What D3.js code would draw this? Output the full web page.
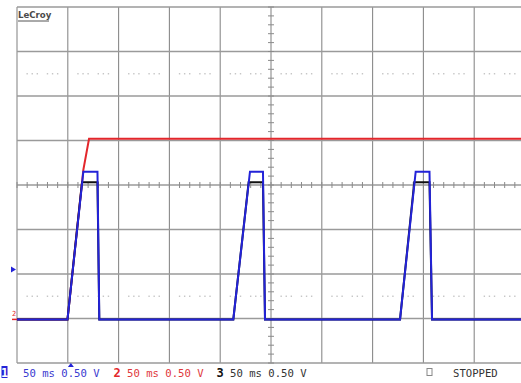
<!DOCTYPE html>
<html>
<head>
<meta charset="utf-8">
<script src="https://cdn.jsdelivr.net/npm/d3@7"></script>
<style>
body { margin: 0; background: #fff; overflow: hidden; }
text { font-family: "DejaVu Sans Mono", monospace; }
</style>
</head>
<body>
<script>
var width = 521
var height = 383

// screen: 10 div of 50 ms, 8 div of 0.50 V
var timeDomain = [-250, 250]
var voltDomain = [-2, 2]
var msPerDiv = 50
var voltPerDiv = 0.5
var dotLevels = [1.25, -1.25]
var dotOffsets = [10, 15, 20, 30, 35, 40]

// channel 1 (blue)
var ch1Time = [-250, -200.3, -184.7, -170.8, -169.0, -37.1, -20.7, -7.9, -5.9, 127.0, 142.4, 156.0, 158.5, 250]
var ch1Volt = [0, 0, 1.66, 1.66, 0, 0, 1.66, 1.66, 0, 0, 1.66, 1.66, 0, 0]
// channel 2 (red)
var ch2Time = [-250, -200.3, -184.7, -179.1, 250]
var ch2Volt = [0, 0, 1.68, 2.03, 2.03]
// channel 3 (black)
var ch3Time = [-250, -200.3, -186.0, -170.8, -169.0, -37.1, -22.0, -7.9, -5.9, 127.0, 141.0, 156.0, 158.5, 250]
var ch3Volt = [0, 0, 1.54, 1.54, 0, 0, 1.54, 1.54, 0, 0, 1.54, 1.54, 0, 0]

var chanNames = ["1", "2", "3"]
var chanLabels = ["50 ms 0.50 V", "50 ms 0.50 V", "50 ms 0.50 V"]
var chanColors = ["#2323d8", "#e3262b", "#111111"]
var labelColors = ["#3a3ad0", "#e0383c", "#333333"]
var chanOffsets = [-1.51, -1.51, -1.51]
var triggerTime = -197
var triggerLevel = 0.56

var x = d3.scaleLinear().domain(timeDomain).range([17, 525])
var y = d3.scaleLinear().domain(voltDomain).range([363, 7])

var svg = d3.select("body")
    .append("svg")
    .attr("width", width)
    .attr("height", height)

svg.append("defs").append("clipPath")
    .attr("id", "screen")
    .append("rect")
    .attr("x", 17).attr("y", 7)
    .attr("width", 508).attr("height", 356)

var grid = svg.append("g")

// major divisions
grid.selectAll(".vline")
    .data(d3.range(timeDomain[0], timeDomain[1] + 1, msPerDiv))
    .enter()
    .append("line")
    .attr("x1", (d) => x(d)).attr("x2", (d) => x(d))
    .attr("y1", y(voltDomain[1])).attr("y2", y(voltDomain[0]))
    .attr("stroke", "#8a8a8a")
    .attr("stroke-width", 1.1)

grid.selectAll(".hline")
    .data(d3.range(voltDomain[0], voltDomain[1] + 0.01, voltPerDiv))
    .enter()
    .append("line")
    .attr("x1", x(timeDomain[0])).attr("x2", x(timeDomain[1]))
    .attr("y1", (d) => y(d)).attr("y2", (d) => y(d))
    .attr("stroke", "#9a9a9a")
    .attr("stroke-width", 1.5)

// dotted reference rows
var dots = []
dotLevels.forEach(function (v) {
    d3.range(timeDomain[0], timeDomain[1], msPerDiv).forEach(function (t) {
        dotOffsets.forEach(function (o) { dots.push({ t: t + o, v: v }) })
    })
})
grid.selectAll(".dot")
    .data(dots)
    .enter()
    .append("rect")
    .attr("x", (d) => x(d.t) - 0.7)
    .attr("y", (d) => y(d.v) - 0.7)
    .attr("width", 1.4).attr("height", 1.4)
    .attr("fill", "#c4c4c4")

// minor ticks on the centre axes
grid.selectAll(".xtick")
    .data(d3.range(timeDomain[0], timeDomain[1] + 1, msPerDiv / 5))
    .enter()
    .append("line")
    .attr("x1", (d) => x(d)).attr("x2", (d) => x(d))
    .attr("y1", y(0) - 3).attr("y2", y(0) + 3)
    .attr("stroke", "#8a8a8a")

grid.selectAll(".ytick")
    .data(d3.range(voltDomain[0], voltDomain[1] + 0.01, voltPerDiv / 5))
    .enter()
    .append("line")
    .attr("x1", x(0) - 3).attr("x2", x(0) + 3)
    .attr("y1", (d) => y(d)).attr("y2", (d) => y(d))
    .attr("stroke", "#8a8a8a")

// traces
function trace(times, volts, off) {
    return d3.line()
        .x((d, i) => x(times[i]))
        .y((d, i) => y(volts[i] + off))(times)
}

var traces = svg.append("g").attr("clip-path", "url(#screen)")

traces.append("path")
    .attr("d", trace(ch2Time, ch2Volt, chanOffsets[1]))
    .attr("fill", "none")
    .attr("stroke", chanColors[1])
    .attr("stroke-width", 2)

traces.append("path")
    .attr("d", trace(ch3Time, ch3Volt, chanOffsets[2]))
    .attr("fill", "none")
    .attr("stroke", chanColors[2])
    .attr("stroke-width", 2)

traces.append("path")
    .attr("d", trace(ch1Time, ch1Volt, chanOffsets[0]))
    .attr("fill", "none")
    .attr("stroke", chanColors[0])
    .attr("stroke-width", 2)

// markers
var ty = y(triggerLevel + chanOffsets[0])
svg.append("path")
    .attr("d", "M11," + (ty - 3) + "L16," + ty + "L11," + (ty + 3) + "Z")
    .attr("fill", chanColors[0])

var tx = x(triggerTime)
svg.append("path")
    .attr("d", "M" + (tx - 3) + ",367L" + tx + ",363L" + (tx + 3) + ",367Z")
    .attr("fill", chanColors[0])

var gy = y(chanOffsets[1])
svg.append("text")
    .attr("x", 12).attr("y", gy - 3)
    .attr("font-size", 7)
    .attr("fill", chanColors[1])
    .text("2")
svg.append("line")
    .attr("x1", 12).attr("x2", 17)
    .attr("y1", gy).attr("y2", gy)
    .attr("stroke", chanColors[1])
    .attr("stroke-width", 1.5)

// LeCroy logo
svg.append("text")
    .attr("x", 18).attr("y", 18)
    .style("font-family", "DejaVu Sans")
    .attr("font-size", 8.6)
    .attr("font-weight", "bold")
    .attr("fill", "#4a4a4a")
    .text("LeCroy")
svg.append("line")
    .attr("x1", 18).attr("x2", 49)
    .attr("y1", 21).attr("y2", 21)
    .attr("stroke", "#555")

// bottom status line
var labelX = [23, 127, 230]
var nameX = [4.5, 117, 220]

svg.append("rect")
    .attr("x", 1.5).attr("y", 366)
    .attr("width", 6).attr("height", 12)
    .attr("fill", chanColors[0])

svg.selectAll(".cname")
    .data(chanNames)
    .enter()
    .append("text")
    .attr("x", (d, i) => nameX[i])
    .attr("y", 377)
    .attr("text-anchor", "middle")
    .attr("font-size", 12)
    .attr("font-weight", "bold")
    .attr("fill", (d, i) => i === 0 ? "#fff" : chanColors[i])
    .text((d) => d)

svg.selectAll(".clabel")
    .data(chanLabels)
    .enter()
    .append("text")
    .attr("x", (d, i) => labelX[i])
    .attr("y", 377)
    .attr("font-size", 10.6)
    .attr("fill", (d, i) => labelColors[i])
    .text((d) => d)

svg.append("rect")
    .attr("x", 427).attr("y", 368.5)
    .attr("width", 5).attr("height", 7)
    .attr("fill", "none")
    .attr("stroke", "#888")

svg.append("text")
    .attr("x", 453).attr("y", 377)
    .attr("font-size", 10.6)
    .attr("fill", "#333")
    .text("STOPPED")
</script>
</body>
</html>
